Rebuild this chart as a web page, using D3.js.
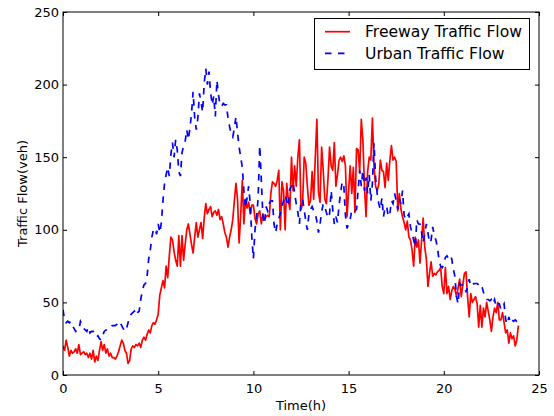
<!DOCTYPE html>
<html>
<head>
<meta charset="utf-8">
<script src="https://cdn.jsdelivr.net/npm/d3@7"></script>
<style>
  body { margin: 0; background: #fff; }
  svg { display: block; font-family: "DejaVu Sans", sans-serif; }
</style>
</head>
<body>
<svg id="chart" width="554" height="416"></svg>
<script>
// 5-minute samples, one row per hour
const freeway = [
  20, 17, 24, 19, 13, 17, 15, 16, 18, 15, 21, 14,
  15, 16, 14, 15, 12, 15, 11, 17, 9, 13, 10, 17,
  23, 17, 21, 15, 18, 13, 15, 12, 12, 11, 13, 16,
  20, 24, 22, 17, 15, 8, 10, 18, 20, 19, 21, 20,
  22, 19, 24, 26, 24, 28, 31, 29, 34, 36, 35, 38,
  42, 55, 60, 65, 60, 75, 67, 82, 95, 93, 85, 79,
  75, 96, 75, 96, 79, 90, 100, 104, 97, 90, 84, 95,
  105, 95, 100, 105, 94, 108, 118, 111, 114, 116, 109, 112,
  113, 110, 114, 107, 109, 104, 98, 95, 88, 95, 100, 107,
  120, 132, 121, 91, 110, 134, 104, 121, 115, 119, 111, 117,
  117, 108, 104, 111, 113, 104, 111, 107, 109, 110, 109, 125,
  133, 132, 130, 134, 141, 100, 133, 127, 100, 132, 121, 114,
  150, 127, 144, 130, 150, 162, 114, 118, 150, 146, 130, 117,
  120, 140, 121, 150, 176, 126, 119, 157, 141, 121, 118, 135,
  157, 144, 141, 160, 130, 138, 148, 150, 147, 151, 144, 109,
  127, 144, 125, 143, 112, 156, 155, 140, 176, 162, 130, 109,
  140, 150, 148, 177, 144, 130, 127, 131, 148, 141, 140, 129,
  146, 134, 148, 158, 148, 150, 147, 113, 125, 114, 109, 105,
  100, 106, 95, 93, 86, 75, 95, 88, 93, 77, 93, 108,
  88, 80, 61, 70, 78, 68, 70, 69, 71, 72, 74, 61,
  56, 74, 56, 61, 52, 58, 61, 59, 54, 60, 66, 54,
  62, 70, 71, 54, 40, 56, 50, 52, 54, 49, 33, 48,
  33, 46, 40, 50, 44, 38, 30, 40, 46, 43, 50, 38,
  38, 43, 36, 29, 31, 22, 29, 25, 27, 20, 24, 34
];

const urban = [
  45, 38, 36, 37, 36, 37, 34, 32, 30, 31, 31, 37,
  35, 32, 31, 30, 33, 29, 30, 30, 28, 26, 27, 25,
  24, 27, 30, 31, 31, 33, 33, 34, 34, 34, 35, 37,
  36, 34, 32, 30, 32, 36, 40, 42, 43, 44, 41, 43,
  44, 52, 58, 62, 63, 68, 80, 86, 95, 100, 101, 97,
  104, 98, 105, 120, 132, 138, 143, 137, 152, 160, 150, 162,
  155, 140, 137, 153, 158, 161, 169, 162, 170, 180, 195, 177,
  169, 177, 194, 188, 181, 201, 211, 200, 209, 195, 186, 192,
  178, 203, 193, 186, 185, 187, 186, 186, 177, 171, 166, 164,
  170, 178, 167, 157, 150, 143, 127, 115, 122, 130, 118, 95,
  80, 100, 109, 122, 158, 134, 109, 104, 116, 113, 118, 120,
  120, 104, 98, 104, 108, 111, 116, 120, 124, 120, 116, 128,
  130, 133, 125, 118, 112, 104, 120, 121, 114, 106, 100, 111,
  114, 116, 113, 111, 106, 98, 104, 112, 118, 116, 112, 108,
  111, 127, 114, 104, 109, 105, 117, 126, 133, 130, 110, 101,
  104, 107, 114, 114, 113, 114, 127, 141, 130, 141, 127, 136,
  125, 138, 120, 132, 160, 136, 125, 118, 114, 122, 109, 116,
  116, 109, 111, 120, 118, 125, 120, 114, 121, 118, 127, 110,
  107, 109, 111, 102, 98, 93, 88, 107, 104, 104, 98, 91,
  97, 104, 98, 91, 93, 102, 96, 93, 88, 79, 75, 74,
  76, 81, 82, 80, 82, 80, 73, 68, 54, 49, 63, 62,
  62, 62, 57, 61, 66, 61, 62, 63, 63, 63, 62, 63,
  61, 57, 54, 52, 52, 51, 52, 49, 52, 47, 49, 49,
  45, 47, 49, 38, 35, 40, 36, 38, 37, 38, 37, 37
];

const xTicks = [0, 5, 10, 15, 20, 25];
const yTicks = [0, 50, 100, 150, 200, 250];
const seriesNames = ["Freeway Traffic Flow", "Urban Traffic Flow"];
const stepH = 1 / 12; // hours between samples

const svg = d3.select("#chart");
const box = { left: 63, right: 539, top: 12, bottom: 375 };
const FONT = "13px";
const DASH = "6.5,6.5";

const x = d3.scaleLinear().domain([0, 25]).range([box.left, box.right]);
const y = d3.scaleLinear().domain([0, 250]).range([box.bottom, box.top]);

const line = d3.line()
    .x((d, i) => x(i * stepH))
    .y(d => y(d));

// clip to the axes box
svg.append("defs").append("clipPath").attr("id", "plot-clip")
    .append("rect")
    .attr("x", box.left).attr("y", box.top)
    .attr("width", box.right - box.left).attr("height", box.bottom - box.top);

const plot = svg.append("g").attr("clip-path", "url(#plot-clip)");

plot.append("path")
    .datum(freeway)
    .attr("fill", "none")
    .attr("stroke", "#ff0000")
    .attr("stroke-width", 1.7)
    .attr("stroke-linejoin", "round")
    .attr("d", line);

plot.append("path")
    .datum(urban)
    .attr("fill", "none")
    .attr("stroke", "#0000ff")
    .attr("stroke-width", 1.7)
    .attr("stroke-dasharray", DASH)
    .attr("d", line);

// axes, ticks pointing inward on all four sides
const styleAxis = g => {
    g.select(".domain").remove();
    g.selectAll(".tick line").attr("stroke", "#000");
    g.selectAll(".tick text")
        .attr("fill", "#000")
        .style("font-size", FONT)
        .style("font-family", "DejaVu Sans");
};

svg.append("g")
    .attr("transform", `translate(0,${box.bottom})`)
    .call(d3.axisBottom(x).tickValues(xTicks).tickSize(-4).tickSizeOuter(0).tickPadding(9))
    .call(styleAxis);

svg.append("g")
    .attr("transform", `translate(0,${box.top})`)
    .call(d3.axisTop(x).tickValues(xTicks).tickSize(-4).tickSizeOuter(0).tickFormat(""))
    .call(styleAxis);

svg.append("g")
    .attr("transform", `translate(${box.left},0)`)
    .call(d3.axisLeft(y).tickValues(yTicks).tickSize(-4).tickSizeOuter(0).tickPadding(4))
    .call(styleAxis);

svg.append("g")
    .attr("transform", `translate(${box.right},0)`)
    .call(d3.axisRight(y).tickValues(yTicks).tickSize(-4).tickSizeOuter(0).tickFormat(""))
    .call(styleAxis);

svg.append("rect")
    .attr("x", box.left).attr("y", box.top)
    .attr("width", box.right - box.left).attr("height", box.bottom - box.top)
    .attr("fill", "none")
    .attr("stroke", "#000")
    .attr("stroke-width", 1);

// axis labels
svg.append("text")
    .attr("x", (box.left + box.right) / 2)
    .attr("y", 410)
    .attr("text-anchor", "middle")
    .style("font-size", FONT)
    .text("Time(h)");

svg.append("text")
    .attr("transform", `translate(27,${(box.top + box.bottom) / 2}) rotate(-90)`)
    .attr("text-anchor", "middle")
    .style("font-size", FONT)
    .text("Traffic Flow(veh)");

// legend
const legend = svg.append("g");
legend.append("rect")
    .attr("x", 314.5).attr("y", 18.5)
    .attr("width", 215).attr("height", 51)
    .attr("fill", "#fff")
    .attr("stroke", "#000");

const legendItems = [
    { name: seriesNames[0], color: "#ff0000", dash: null, cy: 31.7 },
    { name: seriesNames[1], color: "#0000ff", dash: DASH, cy: 53.3 }
];

legendItems.forEach(d => {
    legend.append("line")
        .attr("x1", 325).attr("x2", 350)
        .attr("y1", d.cy).attr("y2", d.cy)
        .attr("stroke", d.color)
        .attr("stroke-width", 1.7)
        .attr("stroke-dasharray", d.dash);
    legend.append("text")
        .attr("x", 365)
        .attr("y", d.cy)
        .attr("dy", "0.36em")
        .style("font-size", "15.6px")
        .text(d.name);
});
</script>
</body>
</html>
